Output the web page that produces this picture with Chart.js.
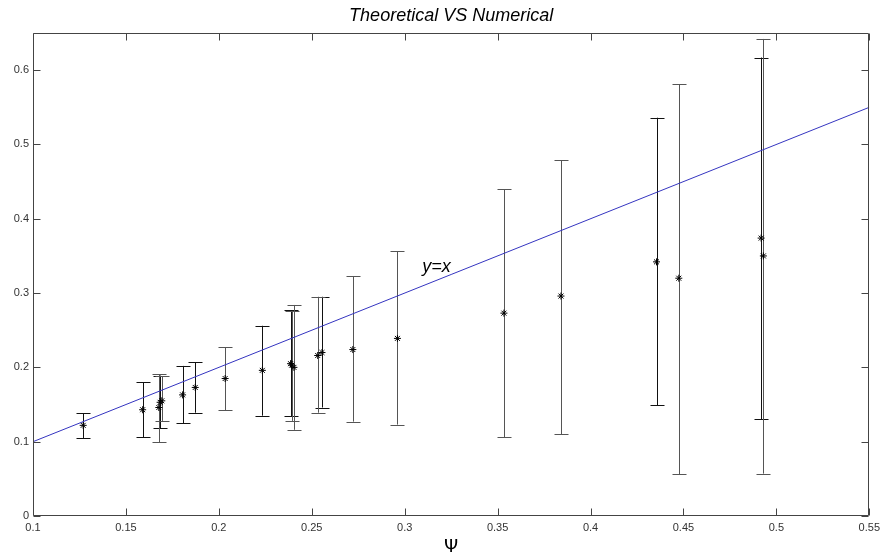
<!DOCTYPE html>
<html>
<head>
<meta charset="utf-8">
<script src="https://cdn.jsdelivr.net/npm/chart.js@4.4.0/dist/chart.umd.min.js"></script>
<style>
  html, body { margin: 0; padding: 0; background: #fff; }
  #wrap { width: 885px; height: 558px; }
</style>
</head>
<body>
<div id="wrap"><canvas id="psiChart"></canvas></div>
<script>
// --- valeurs ---
// série noire
const blackPsi   = [0.127, 0.159, 0.1684, 0.1805, 0.1873, 0.2234, 0.2386, 0.2555, 0.4355, 0.4918];
const blackMean  = [0.122, 0.143, 0.153, 0.163, 0.173, 0.196, 0.205, 0.220, 0.342, 0.374];
const blackUpper = [0.138, 0.180, 0.189, 0.202, 0.207, 0.256, 0.277, 0.295, 0.536, 0.617];
const blackLower = [0.105, 0.106, 0.118, 0.125, 0.139, 0.135, 0.134, 0.146, 0.149, 0.130];

// série grise
const grayPsi   = [0.1677, 0.1693, 0.2034, 0.2392, 0.2404, 0.2532, 0.2721, 0.2961, 0.3534, 0.3841, 0.4475, 0.493];
const grayMean  = [0.146, 0.155, 0.185, 0.203, 0.200, 0.216, 0.224, 0.239, 0.273, 0.296, 0.320, 0.350];
const grayUpper = [0.191, 0.188, 0.227, 0.276, 0.284, 0.295, 0.323, 0.356, 0.440, 0.479, 0.581, 0.642];
const grayLower = [0.099, 0.128, 0.142, 0.128, 0.116, 0.139, 0.127, 0.123, 0.106, 0.110, 0.056, 0.057];

// droite théorique y = x
const theoryX = [0.1, 0.55];

// axes
const X_MIN = 0.1, X_MAX = 0.55, X_STEP = 0.05;
const Y_MIN = 0, Y_MAX = 0.65, Y_STEP = 0.1;

const LINE_BLUE = '#3535c0';
const AXIS_GRAY = '#444';
const SANS = '"Liberation Sans", Arial, sans-serif';

function toPoints(xs, ys) {
    return xs.map((x, i) => ({ x: x, y: ys[i] }));
}

// titre centré sur la zone de tracé (comme MATLAB)
const centerTitlePlugin = {
    id: 'centerTitle',
    afterLayout(chart) {
        const t = chart.titleBlock;
        if (!t) return;
        t.left = chart.chartArea.left;
        t.right = chart.chartArea.right;
    }
};

// barres d'erreur (dessinées via les échelles du graphique)
const errorBarPlugin = {
    id: 'errorBars',
    beforeDatasetsDraw(chart) {
        const ctx = chart.ctx;
        const xs = chart.scales.x, ys = chart.scales.y;
        chart.data.datasets.forEach((ds) => {
            if (!ds.upper) return;
            ctx.save();
            ctx.strokeStyle = ds.barColor;
            ctx.lineWidth = 1;
            ds.data.forEach((p, i) => {
                const px = Math.round(xs.getPixelForValue(p.x)) + 0.5;
                const top = ys.getPixelForValue(ds.upper[i]);
                const bot = ys.getPixelForValue(ds.lower[i]);
                const cap = 7;
                ctx.beginPath();
                ctx.moveTo(px, top); ctx.lineTo(px, bot);
                ctx.moveTo(px - cap, Math.round(top) + 0.5); ctx.lineTo(px + cap, Math.round(top) + 0.5);
                ctx.moveTo(px - cap, Math.round(bot) + 0.5); ctx.lineTo(px + cap, Math.round(bot) + 0.5);
                ctx.stroke();
            });
            ctx.restore();
        });
    }
};

// cadre style MATLAB avec graduations intérieures + étiquette y=x
const framePlugin = {
    id: 'matlabFrame',
    afterDraw(chart) {
        const ctx = chart.ctx;
        const a = chart.chartArea;
        const xs = chart.scales.x, ys = chart.scales.y;
        const tl = 7;
        ctx.save();
        ctx.strokeStyle = AXIS_GRAY;
        ctx.lineWidth = 1;
        const L = Math.round(a.left) + 0.5, R = Math.round(a.right) - 0.5;
        const T = Math.round(a.top) + 0.5, B = Math.round(a.bottom) - 0.5;
        ctx.beginPath();
        ctx.rect(L, T, R - L, B - T);
        xs.ticks.forEach(t => {
            const px = Math.round(xs.getPixelForValue(t.value)) + 0.5;
            ctx.moveTo(px, B); ctx.lineTo(px, B - tl);
            ctx.moveTo(px, T); ctx.lineTo(px, T + tl);
        });
        ys.ticks.forEach(t => {
            const py = Math.round(ys.getPixelForValue(t.value)) + 0.5;
            ctx.moveTo(L, py); ctx.lineTo(L + tl, py);
            ctx.moveTo(R, py); ctx.lineTo(R - tl, py);
        });
        ctx.stroke();

        // texte "y=x"
        ctx.fillStyle = '#000';
        ctx.font = 'italic 18px ' + SANS;
        ctx.textAlign = 'left';
        ctx.textBaseline = 'alphabetic';
        ctx.fillText('y=x', xs.getPixelForValue(0.3095), ys.getPixelForValue(0.3286));
        ctx.restore();
    }
};

const tickFont = { family: SANS, size: 11 };

new Chart(document.getElementById('psiChart'), {
    type: 'scatter',
    data: {
        datasets: [
            {
                type: 'line',
                label: 'y=x',
                data: toPoints(theoryX, theoryX),
                borderColor: LINE_BLUE,
                borderWidth: 1,
                pointRadius: 0,
                fill: false,
                order: 0
            },
            {
                label: 'Numerical (1)',
                data: toPoints(blackPsi, blackMean),
                upper: blackUpper,
                lower: blackLower,
                barColor: '#111',
                pointStyle: 'star',
                pointRadius: 3.5,
                borderColor: '#000',
                backgroundColor: '#000',
                borderWidth: 1,
                order: 1
            },
            {
                label: 'Numerical (2)',
                data: toPoints(grayPsi, grayMean),
                upper: grayUpper,
                lower: grayLower,
                barColor: '#555',
                pointStyle: 'star',
                pointRadius: 3.5,
                borderColor: '#000',
                backgroundColor: '#000',
                borderWidth: 1,
                order: 2
            }
        ]
    },
    options: {
        responsive: true,
        maintainAspectRatio: false,
        animation: false,
        layout: { padding: { left: 0, right: 12, top: 0, bottom: 0 } },
        plugins: {
            legend: { display: false },
            tooltip: { enabled: false },
            title: {
                display: true,
                text: 'Theoretical VS Numerical',
                color: '#000',
                font: { family: SANS, size: 18, style: 'italic', weight: 'normal', lineHeight: 1.2 },
                padding: { top: 5, bottom: 6.4 }
            }
        },
        scales: {
            x: {
                type: 'linear',
                min: X_MIN,
                max: X_MAX,
                grid: { display: false, drawTicks: false },
                border: { display: false },
                ticks: {
                    stepSize: X_STEP,
                    color: '#333',
                    font: tickFont,
                    padding: 5,
                    maxRotation: 0,
                    callback: v => String(+v.toFixed(2))
                },
                title: {
                    display: true,
                    text: 'Ψ',
                    color: '#000',
                    font: { family: '"DejaVu Sans", sans-serif', size: 18, lineHeight: 1.2 },
                    padding: { top: 0, bottom: 0 }
                },
                afterFit: s => { s.height = 42; }
            },
            y: {
                type: 'linear',
                min: Y_MIN,
                max: Y_MAX,
                grid: { display: false, drawTicks: false },
                border: { display: false },
                ticks: {
                    stepSize: Y_STEP,
                    includeBounds: false,
                    color: '#333',
                    font: tickFont,
                    padding: 4,
                    callback: v => String(+v.toFixed(2))
                },
                afterFit: s => { s.width = 33; }
            }
        }
    },
    plugins: [centerTitlePlugin, errorBarPlugin, framePlugin]
});
</script>
</body>
</html>
